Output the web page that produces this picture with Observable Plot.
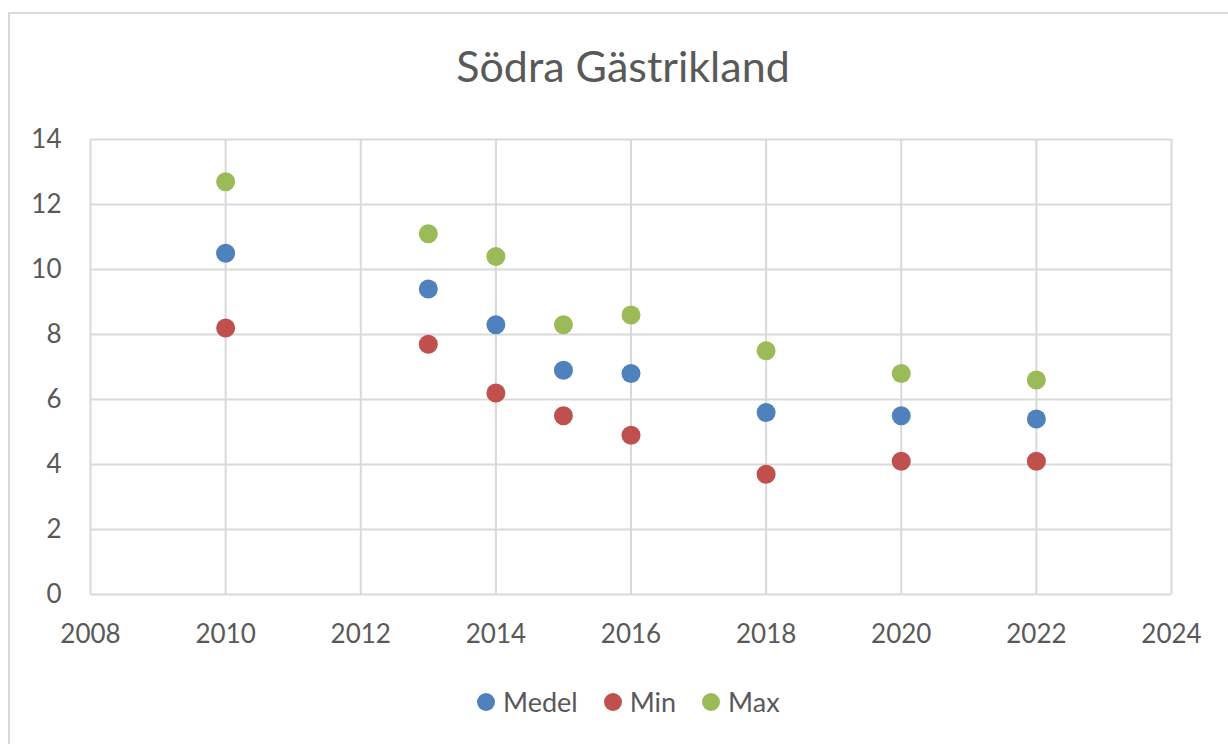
<!DOCTYPE html>
<html><head><meta charset="utf-8">
<script src="https://cdn.jsdelivr.net/npm/d3@7"></script>
<script src="https://cdn.jsdelivr.net/npm/@observablehq/plot@0.6"></script>
<style>
body{margin:0;background:#fff;font-family:Lato,"Open Sans",sans-serif;overflow:hidden;}
#frame{position:absolute;left:8px;top:12px;width:1240px;height:760px;border:2px solid #d9d9d9;box-sizing:border-box;}
#title{position:absolute;left:0;top:41px;width:1246px;text-align:center;font-size:43px;line-height:50px;color:#595959;}
#chart{position:absolute;left:0;top:110px;}
#legend{position:absolute;left:477px;top:685px;display:flex;gap:26px;font-size:27px;line-height:34px;color:#595959;}
#legend span.item{display:flex;align-items:center;gap:8px;}
#legend span.sw{display:inline-block;width:18px;height:18px;border-radius:50%;}
</style>
</head><body>
<div id="frame"></div>
<div id="title">Södra Gästrikland</div>
<div id="chart"></div>
<div id="legend"></div>
<script>
const years = [2010, 2013, 2014, 2015, 2016, 2018, 2020, 2022];
const medel = [10.5, 9.4, 8.3, 6.9, 6.8, 5.6, 5.5, 5.4];
const minV  = [8.2, 7.7, 6.2, 5.5, 4.9, 3.7, 4.1, 4.1];
const maxV  = [12.7, 11.1, 10.4, 8.3, 8.6, 7.5, 6.8, 6.6];
const series = ["Medel", "Min", "Max"];
const colors = ["#4F81BD", "#C0504D", "#9BBB59"];
const xTicks = [2008, 2010, 2012, 2014, 2016, 2018, 2020, 2022, 2024];
const yTicks = [0, 2, 4, 6, 8, 10, 12, 14];

const values = [medel, minV, maxV];
const data = series.flatMap((s, i) => years.map((yr, j) => ({year: yr, value: values[i][j], series: s})));

const chart = Plot.plot({
  width: 1228, height: 560,
  marginLeft: 90, marginRight: 57, marginTop: 29, marginBottom: 76,
  x: {domain: [2008, 2024]},
  y: {domain: [0, 14]},
  color: {domain: series, range: colors},
  style: {fontFamily: "Lato, 'Open Sans', sans-serif", fontSize: "26px", color: "#595959", background: "transparent"},
  marks: [
    Plot.ruleX(xTicks, {stroke: "#d9d9d9", strokeWidth: 2, strokeOpacity: 1}),
    Plot.ruleY(yTicks, {stroke: "#d9d9d9", strokeWidth: 2, strokeOpacity: 1}),
    Plot.axisX({ticks: xTicks, tickSize: 0, tickPadding: 30, tickFormat: d => String(d), label: null, fontSize: 26}),
    Plot.axisY({ticks: yTicks, tickSize: 0, tickPadding: 29, label: null, fontSize: 26}),
    Plot.dot(data, {x: "year", y: "value", fill: "series", r: 9.5})
  ]
});
document.getElementById("chart").appendChild(chart);

const legend = document.getElementById("legend");
series.forEach((s, i) => {
  const item = document.createElement("span");
  item.className = "item";
  const sw = document.createElement("span");
  sw.className = "sw";
  sw.style.background = colors[i];
  item.appendChild(sw);
  item.appendChild(document.createTextNode(s));
  legend.appendChild(item);
});
</script>
</body></html>
